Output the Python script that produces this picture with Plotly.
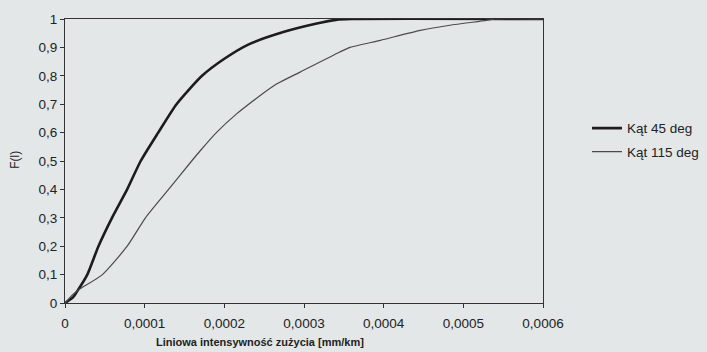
import plotly.graph_objects as go

# ---- data ----
x_45 = [0, 0.000010, 0.000015, 0.000028, 0.000042, 0.000059, 0.000078, 0.000095,
        0.000117, 0.000140, 0.000172, 0.000200, 0.000230, 0.000274, 0.000316,
        0.000340, 0.000360, 0.000600]
f_45 = [0, 0.02, 0.04, 0.10, 0.20, 0.30, 0.40, 0.50,
        0.60, 0.70, 0.80, 0.86, 0.91, 0.954, 0.984,
        0.997, 1.0, 1.0]

x_115 = [0, 0.000010, 0.000019, 0.000047, 0.000078, 0.000101, 0.000130, 0.000159,
         0.000170, 0.000190, 0.000215, 0.000240, 0.000265, 0.000295, 0.000345, 0.000358,
         0.000396, 0.000446, 0.000483, 0.000529, 0.000540, 0.000600]
f_115 = [0, 0.03, 0.05, 0.10, 0.20, 0.30, 0.40, 0.50,
         0.537, 0.60, 0.665, 0.72, 0.77, 0.813, 0.884, 0.90,
         0.925, 0.960, 0.978, 0.995, 1.0, 1.0]

x_tickvals = [0, 0.0001, 0.0002, 0.0003, 0.0004, 0.0005, 0.0006]
x_ticktext = ["0", "0,0001", "0,0002", "0,0003", "0,0004", "0,0005", "0,0006"]
y_tickvals = [0, 0.1, 0.2, 0.3, 0.4, 0.5, 0.6, 0.7, 0.8, 0.9, 1.0]
y_ticktext = ["0", "0,1", "0,2", "0,3", "0,4", "0,5", "0,6", "0,7", "0,8", "0,9", "1"]

series_names = ["Kąt 45 deg", "Kąt 115 deg"]
x_title = "Liniowa intensywność zużycia [mm/km]"
y_title = "F(l)"

BG = "#e3e7e8"
INK = "#222222"
FONT = "Liberation Sans, Arial, sans-serif"

fig = go.Figure()
fig.add_trace(go.Scatter(x=x_45, y=f_45, mode="lines", name=series_names[0],
                         legendgroup="a", line_shape="spline",
                         line=dict(color="#1c1c1c", width=2.6, smoothing=0.6)))
fig.add_trace(go.Scatter(x=x_115, y=f_115, mode="lines", name=series_names[1],
                         legendgroup="b", line_shape="spline",
                         line=dict(color="#4a4a4a", width=1.2, smoothing=0.6)))

L, R, T, B = 64.5, 164, 18.7, 49.3
W, H = 707, 352
pw = W - L - R
ph = H - T - B

axis_common = dict(showgrid=False, zeroline=False, showline=True, linecolor="#333333",
                   linewidth=1.2, mirror=True, ticks="outside", ticklen=4,
                   tickcolor="#333333", tickwidth=1,
                   tickfont=dict(family=FONT, size=13.5, color=INK))

fig.update_layout(
    width=W, height=H,
    margin=dict(l=L, r=R, t=T, b=B, pad=0, autoexpand=False),
    paper_bgcolor=BG, plot_bgcolor=BG,
    showlegend=True,
    legend=dict(x=(587 - L) / pw, y=(T + ph - 140) / ph, xanchor="left", yanchor="middle",
                bgcolor="rgba(0,0,0,0)", borderwidth=0,
                traceorder="grouped", tracegroupgap=3,
                font=dict(family=FONT, size=13.5, color=INK)),
    xaxis=dict(range=[0, 0.0006], tickvals=x_tickvals, ticktext=x_ticktext,
               ticklabelstandoff=4, **axis_common),
    yaxis=dict(range=[0, 1], tickvals=y_tickvals, ticktext=y_ticktext, **axis_common),
    annotations=[
        dict(text="<b>" + x_title + "</b>", xref="paper", yref="paper",
             x=(260 - L) / pw, y=(T + ph - 342) / ph, xanchor="center", yanchor="middle",
             showarrow=False, font=dict(family=FONT, size=11, color=INK)),
        dict(text=y_title, xref="paper", yref="paper",
             x=(15 - L) / pw, y=(T + ph - 160) / ph, xanchor="center", yanchor="middle",
             textangle=-90, showarrow=False, font=dict(family=FONT, size=12, color=INK)),
    ],
)

fig.write_html("out.html",
               config={"displayModeBar": False, "responsive": False},
               post_script="document.body.style.margin='0';"
                           "document.body.style.overflow='hidden';"
                           "document.body.style.background='%s';" % BG)
